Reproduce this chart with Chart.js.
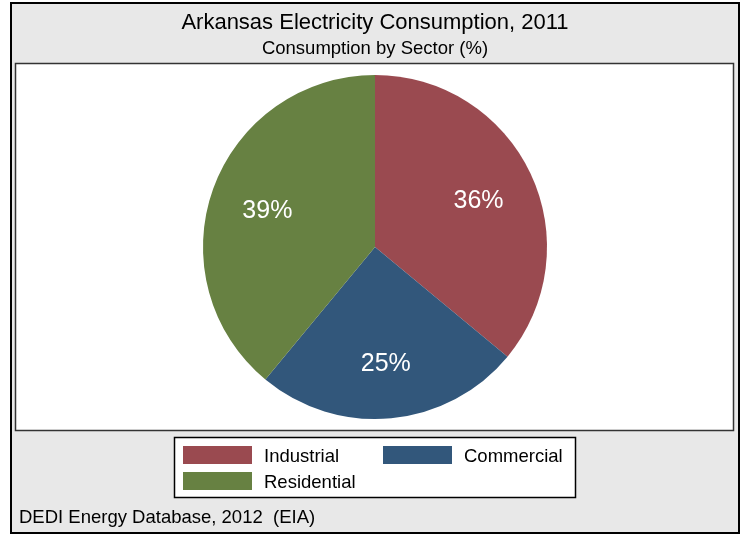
<!DOCTYPE html>
<html>
<head>
<meta charset="utf-8">
<script src="https://cdn.jsdelivr.net/npm/chart.js@4/dist/chart.umd.min.js"></script>
<style>
html,body{margin:0;padding:0;background:#fff;}
#wrap{position:relative;width:747px;height:536px;}
</style>
</head>
<body>
<div id="wrap"><canvas id="c" width="747" height="536"></canvas></div>
<script>
const titleText = "Arkansas Electricity Consumption, 2011";
const subtitleText = "Consumption by Sector (%)";
const footerText = "DEDI Energy Database, 2012  (EIA)";
const categories = ["Industrial", "Commercial", "Residential"];
const values = [36, 25, 39];
const colors = ["#9a4a50", "#32577b", "#678142"];

const FONT = "'Liberation Sans', Arial, sans-serif";

const framePlugin = {
  id: 'frame',
  beforeDraw(chart) {
    const ctx = chart.ctx;
    ctx.save();
    ctx.fillStyle = '#ffffff';
    ctx.fillRect(0, 0, 747, 536);
    // outer gray panel
    ctx.fillStyle = '#e8e8e8';
    ctx.fillRect(10, 2, 730, 531);
    ctx.strokeStyle = '#000000';
    ctx.lineWidth = 2;
    ctx.strokeRect(11, 3, 728, 530);
    // plot region
    ctx.fillStyle = '#ffffff';
    ctx.fillRect(15, 63, 719, 368);
    ctx.strokeStyle = '#333333';
    ctx.lineWidth = 1.5;
    ctx.strokeRect(15.5, 63.5, 718, 367);
    // titles
    ctx.fillStyle = '#000000';
    ctx.textAlign = 'center';
    ctx.textBaseline = 'middle';
    ctx.font = '22px ' + FONT;
    ctx.fillText(titleText, 375, 23);
    ctx.font = '18.5px ' + FONT;
    ctx.fillText(subtitleText, 375, 49);
    // legend box
    ctx.fillStyle = '#ffffff';
    ctx.fillRect(174, 437, 402, 61);
    ctx.strokeStyle = '#000000';
    ctx.lineWidth = 1.5;
    ctx.strokeRect(174.5, 437.5, 401, 60);
    const pos = [[183, 446], [383, 446], [183, 472]];
    ctx.textAlign = 'left';
    ctx.font = '18.5px ' + FONT;
    categories.forEach((c, i) => {
      const [x, y] = pos[i];
      ctx.fillStyle = colors[i];
      ctx.fillRect(x, y, 69, 18);
      ctx.fillStyle = '#000000';
      ctx.fillText(c, x + 81, y + 11);
    });
    // footer
    ctx.font = '18.5px ' + FONT;
    ctx.fillText(footerText, 19, 518);
    ctx.restore();
  },
  afterDatasetsDraw(chart) {
    const ctx = chart.ctx;
    const meta = chart.getDatasetMeta(0);
    const total = values.reduce((a, b) => a + b, 0);
    ctx.save();
    ctx.fillStyle = '#ffffff';
    ctx.font = '25px ' + FONT;
    ctx.textAlign = 'center';
    ctx.textBaseline = 'middle';
    meta.data.forEach((arc, i) => {
      const p = arc.getProps(['x', 'y', 'startAngle', 'endAngle', 'outerRadius'], true);
      const mid = (p.startAngle + p.endAngle) / 2;
      const r = p.outerRadius * 0.665;
      const x = p.x + Math.cos(mid) * r;
      const y = p.y + Math.sin(mid) * r + 3;
      ctx.fillText(Math.round(values[i] / total * 100) + '%', x, y);
    });
    ctx.restore();
  }
};

new Chart(document.getElementById('c'), {
  type: 'pie',
  data: {
    labels: categories,
    datasets: [{
      data: values,
      backgroundColor: colors,
      borderWidth: 0
    }]
  },
  options: {
    responsive: false,
    animation: false,
    events: [],
    layout: { padding: { top: 75, bottom: 117, left: 30, right: 27 } },
    plugins: {
      legend: { display: false },
      title: { display: false },
      tooltip: { enabled: false }
    }
  },
  plugins: [framePlugin]
});
</script>
</body>
</html>
